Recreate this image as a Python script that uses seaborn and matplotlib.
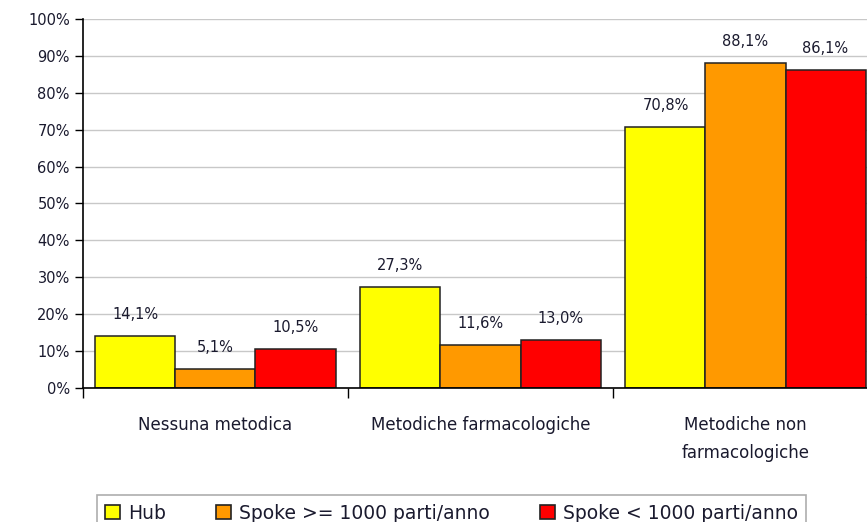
import pandas as pd
import matplotlib
matplotlib.use("Agg")
import matplotlib.pyplot as plt
import seaborn as sns
from matplotlib.ticker import MultipleLocator, FixedLocator, PercentFormatter

sns.set_style("white")
plt.rcParams["font.family"] = ["DejaVu Sans"]

# data
categories = ["Nessuna metodica", "Metodiche farmacologiche", "Metodiche non\nfarmacologiche"]
series = ["Hub", "Spoke >= 1000 parti/anno", "Spoke < 1000 parti/anno"]
hub = [14.1, 27.3, 70.8]
spoke_big = [5.1, 11.6, 88.1]
spoke_small = [10.5, 13.0, 86.1]
colors = ["#FFFF00", "#FF9900", "#FF0000"]

rows = []
for name, vals in zip(series, [hub, spoke_big, spoke_small]):
    for cat, v in zip(categories, vals):
        rows.append({"Categoria": cat, "Gruppo": name, "Valore": v})
df = pd.DataFrame(rows)

fig = plt.figure(figsize=(8.67, 5.22), dpi=100)
ax = fig.add_axes([0.0957, 0.2567, 0.917, 0.707])

sns.barplot(data=df, x="Categoria", y="Valore", hue="Gruppo", order=categories,
            hue_order=series, palette=colors, width=0.906, edgecolor="#222222",
            linewidth=1.1, saturation=1, ax=ax, legend=False)

for cont in ax.containers:
    ax.bar_label(cont, labels=[f"{b.get_height():.1f}%".replace(".", ",") for b in cont],
                 padding=10, fontsize=10.5, color="#1a1a2e")

ax.set_ylim(0, 100)
ax.set_xlim(-0.5, 2.5)
ax.yaxis.set_major_locator(MultipleLocator(10))
ax.yaxis.set_major_formatter(PercentFormatter(decimals=0))
ax.grid(axis="y", color="#c8c8c8", linewidth=1)
ax.set_axisbelow(True)

# category labels centred, tick marks between groups
ax.xaxis.set_major_locator(FixedLocator([-0.5, 0.5, 1.5, 2.5]))
ax.xaxis.set_minor_locator(FixedLocator([0, 1, 2]))
ax.set_xticklabels([], minor=False)
ax.set_xticklabels(categories, minor=True, fontsize=12, color="#1a1a2e", linespacing=1.75)
ax.tick_params(axis="x", which="major", direction="out", length=7, width=1, color="black", bottom=True)
ax.tick_params(axis="x", which="minor", length=0, pad=20)
ax.tick_params(axis="y", direction="out", length=6, width=1, color="black", left=True,
               labelsize=10.5, labelcolor="#1a1a2e")

ax.set_xlabel("")
ax.set_ylabel("")
for s in ["top", "right"]:
    ax.spines[s].set_visible(False)
for s in ["left", "bottom"]:
    ax.spines[s].set_color("black")
    ax.spines[s].set_linewidth(1.2)

handles = [plt.Rectangle((0, 0), 1, 1, facecolor=c, edgecolor="#222222", linewidth=1.2) for c in colors]
leg = fig.legend(handles, series, loc="upper left", bbox_to_anchor=(0.101, 0.069), ncol=3,
                 frameon=True, fancybox=False, edgecolor="#999999", fontsize=13.5,
                 handlelength=0.8, handleheight=0.8, handletextpad=0.4, columnspacing=2.7,
                 borderpad=0.45)
leg.get_frame().set_linewidth(1.2)
for t in leg.get_texts():
    t.set_color("#1a1a2e")

fig.savefig("out.png", dpi=100)
